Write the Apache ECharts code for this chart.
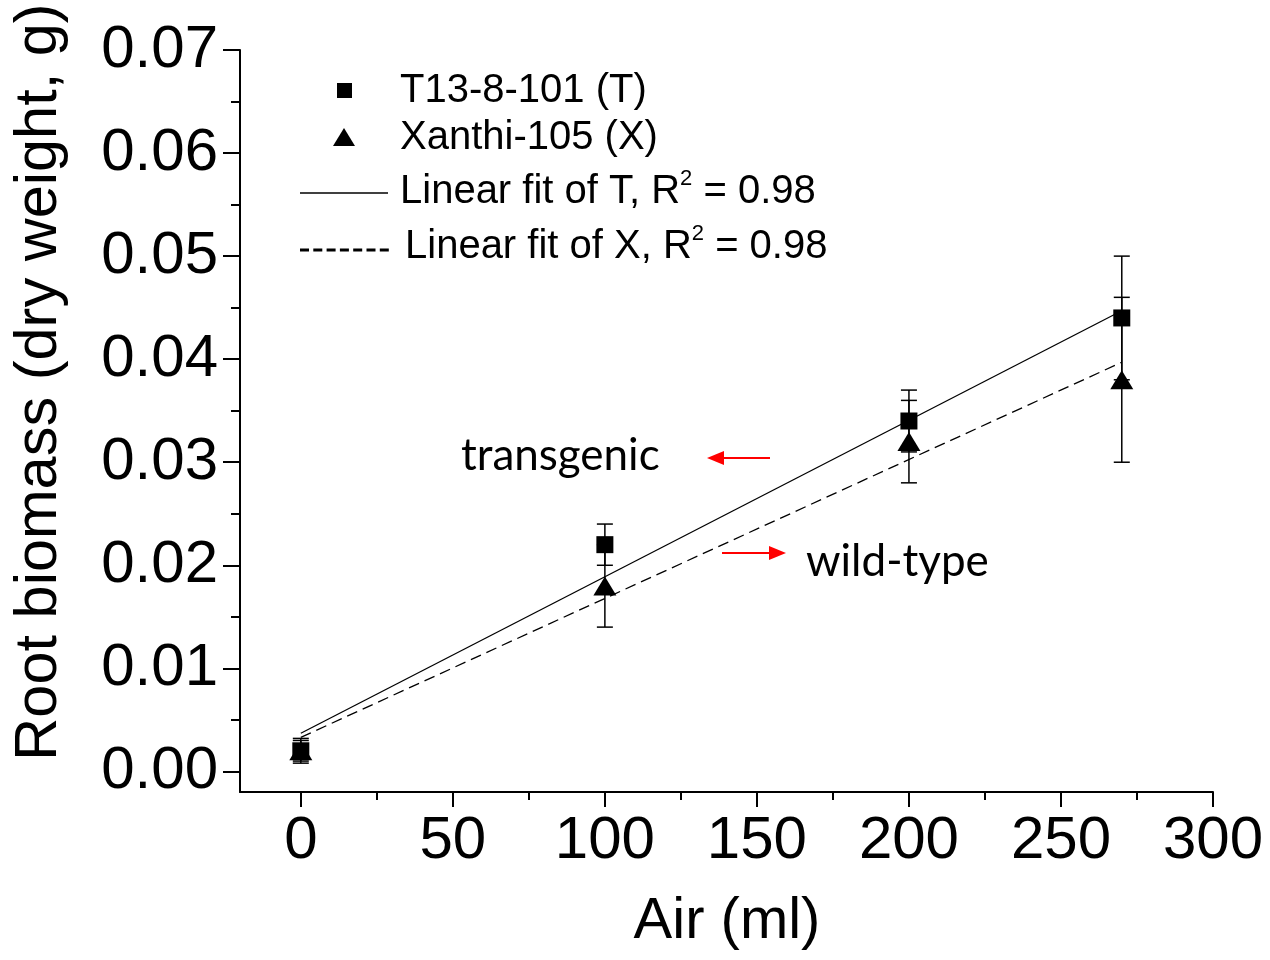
<!DOCTYPE html>
<html><head><meta charset="utf-8">
<script src="https://cdn.jsdelivr.net/npm/echarts@6/dist/echarts.min.js"></script>
<style>html,body{margin:0;padding:0;background:#fff}#c{width:1270px;height:960px}</style>
</head><body><div id="c"></div>
<script>
// ---- data ----
const airMl = [0, 100, 200, 270];
const tMean = [0.002, 0.022, 0.034, 0.044];
const tErr  = [0.001, 0.002, 0.003, 0.006];
const xMean = [0.002, 0.018, 0.032, 0.038];
const xErr  = [0.0012, 0.004, 0.004, 0.008];
const fitT = [[0, 0.0037], [270, 0.0447]];
const fitX = [[0, 0.0033], [270, 0.0397]];
const xTicks = [0, 50, 100, 150, 200, 250, 300];
const xMinorTicks = [25, 75, 125, 175, 225, 275];
const yTicks = [0, 0.01, 0.02, 0.03, 0.04, 0.05, 0.06, 0.07];
const yMinorTicks = [0.005, 0.015, 0.025, 0.035, 0.045, 0.055, 0.065];
const seriesNames = ['T13-8-101 (T)', 'Xanthi-105 (X)'];

const FONT = "'Liberation Sans', Arial, sans-serif";
const chart = echarts.init(document.getElementById('c'), null, {renderer: 'canvas'});

const tData = airMl.map((x, i) => [x, tMean[i], tErr[i]]);
const xData = airMl.map((x, i) => [x, xMean[i], xErr[i]]);

function errRender(params, api) {
  const x = api.value(0), y = api.value(1), e = api.value(2);
  const top = api.coord([x, y + e]);
  const bot = api.coord([x, y - e]);
  const hw = 8;
  const st = {stroke: '#000', lineWidth: 1.5};
  return {type: 'group', children: [
    {type: 'line', shape: {x1: top[0], y1: top[1], x2: bot[0], y2: bot[1]}, style: st},
    {type: 'line', shape: {x1: top[0] - hw, y1: top[1], x2: top[0] + hw, y2: top[1]}, style: st},
    {type: 'line', shape: {x1: bot[0] - hw, y1: bot[1], x2: bot[0] + hw, y2: bot[1]}, style: st}
  ]};
}

const axisLineStyle = {color: '#000', width: 2};
const baseX = {type: 'value', min: -20, max: 300, position: 'bottom', splitLine: {show: false}};
const baseY = {type: 'value', min: -0.002, max: 0.07, position: 'left', splitLine: {show: false}};

const option = {
  backgroundColor: '#fff',
  animation: false,
  grid: {left: 240, right: 57, top: 50, bottom: 168, containLabel: false, outerBoundsMode: 'none'},
  xAxis: [
    Object.assign({}, baseX, {
      axisLine: {show: true, onZero: false, lineStyle: axisLineStyle},
      axisTick: {show: true, inside: false, length: 15, customValues: xTicks, lineStyle: {color: '#000', width: 2}},
      axisLabel: {show: true, customValues: xTicks, margin: 19, color: '#000', fontSize: 60, fontFamily: FONT}
    }),
    Object.assign({}, baseX, {
      axisLine: {show: false, onZero: false},
      axisTick: {show: true, inside: false, length: 8, customValues: xMinorTicks, lineStyle: {color: '#000', width: 2}},
      axisLabel: {show: false}
    })
  ],
  yAxis: [
    Object.assign({}, baseY, {
      axisLine: {show: true, onZero: false, lineStyle: axisLineStyle},
      axisTick: {show: true, inside: false, length: 17, customValues: yTicks, lineStyle: {color: '#000', width: 2}},
      axisLabel: {show: true, customValues: yTicks, margin: 22, color: '#000', fontSize: 60, fontFamily: FONT,
        formatter: v => Number(v).toFixed(2)}
    }),
    Object.assign({}, baseY, {
      axisLine: {show: false, onZero: false},
      axisTick: {show: true, inside: false, length: 9, customValues: yMinorTicks, lineStyle: {color: '#000', width: 2}},
      axisLabel: {show: false}
    })
  ],
  series: [
    {type: 'line', name: 'fitT', data: fitT, symbol: 'none', silent: true,
      lineStyle: {color: '#000', width: 1.3, type: 'solid', opacity: 1}},
    {type: 'line', name: 'fitX', data: fitX, symbol: 'none', silent: true,
      lineStyle: {color: '#000', width: 1.3, type: [11, 6], opacity: 1}},
    {type: 'custom', name: 'errT', data: tData, renderItem: errRender, clip: false, z: 3},
    {type: 'custom', name: 'errX', data: xData, renderItem: errRender, clip: false, z: 3},
    {type: 'scatter', name: seriesNames[1], data: xData, symbol: 'triangle', symbolSize: [23, 19],
      itemStyle: {color: '#000', opacity: 1}, z: 5},
    {type: 'scatter', name: seriesNames[0], data: tData, symbol: 'rect', symbolSize: 17,
      itemStyle: {color: '#000', opacity: 1}, z: 6}
  ],
  graphic: [
    // axis titles
    {type: 'text', x: 40, y: 382, rotation: Math.PI / 2,
      style: {text: 'Root biomass (dry weight, g)', font: "59.5px " + FONT, fill: '#000', align: 'center', verticalAlign: 'middle'}},
    {type: 'text', x: 727, y: 922,
      style: {text: 'Air (ml)', font: "58px " + FONT, fill: '#000', align: 'center', verticalAlign: 'middle'}},
    // legend
    {type: 'rect', shape: {x: 337, y: 83, width: 15, height: 15}, style: {fill: '#000'}},
    {type: 'polygon', shape: {points: [[344, 128], [355, 146], [333, 146]]}, style: {fill: '#000'}},
    {type: 'line', shape: {x1: 300, y1: 193, x2: 388, y2: 193}, style: {stroke: '#000', lineWidth: 1.5}},
    {type: 'line', shape: {x1: 300, y1: 250, x2: 392, y2: 250}, style: {stroke: '#000', lineWidth: 3, lineDash: [9, 4.3]}},
    {type: 'text', x: 400, y: 91, style: {text: seriesNames[0], font: "40px " + FONT, fill: '#000', verticalAlign: 'middle'}},
    {type: 'text', x: 400, y: 138, style: {text: seriesNames[1], font: "40px " + FONT, fill: '#000', verticalAlign: 'middle'}},
    {type: 'text', x: 400, y: 192, style: {
      text: '{n|Linear fit of T, R}{s|2}{n| = 0.98}', verticalAlign: 'middle', fill: '#000',
      rich: {n: {fontSize: 40, fontFamily: FONT, lineHeight: 48, fill: '#000', color: '#000'},
             s: {fontSize: 22, fontFamily: FONT, lineHeight: 40, verticalAlign: 'top', fill: '#000', color: '#000'}}}},
    {type: 'text', x: 405, y: 247, style: {
      text: '{n|Linear fit of X, R}{s|2}{n| = 0.98}', verticalAlign: 'middle', fill: '#000',
      rich: {n: {fontSize: 40, fontFamily: FONT, lineHeight: 48, fill: '#000', color: '#000'},
             s: {fontSize: 22, fontFamily: FONT, lineHeight: 40, verticalAlign: 'top', fill: '#000', color: '#000'}}}},
    // annotations
    {type: 'text', x: 461, y: 456, style: {text: 'transgenic', font: "44px Lato, 'Open Sans', sans-serif", fill: '#000', verticalAlign: 'middle'}},
    {type: 'text', x: 806, y: 562, style: {text: 'wild-type', font: "44px Lato, 'Open Sans', sans-serif", fill: '#000', verticalAlign: 'middle'}},
    {type: 'line', shape: {x1: 720, y1: 458, x2: 770, y2: 458}, style: {stroke: '#ff0000', lineWidth: 2}},
    {type: 'polygon', shape: {points: [[707, 458], [724, 451], [724, 465]]}, style: {fill: '#ff0000'}},
    {type: 'line', shape: {x1: 722, y1: 553, x2: 772, y2: 553}, style: {stroke: '#ff0000', lineWidth: 2}},
    {type: 'polygon', shape: {points: [[786, 553], [769, 546], [769, 560]]}, style: {fill: '#ff0000'}}
  ]
};
chart.setOption(option);
</script>
</body></html>
